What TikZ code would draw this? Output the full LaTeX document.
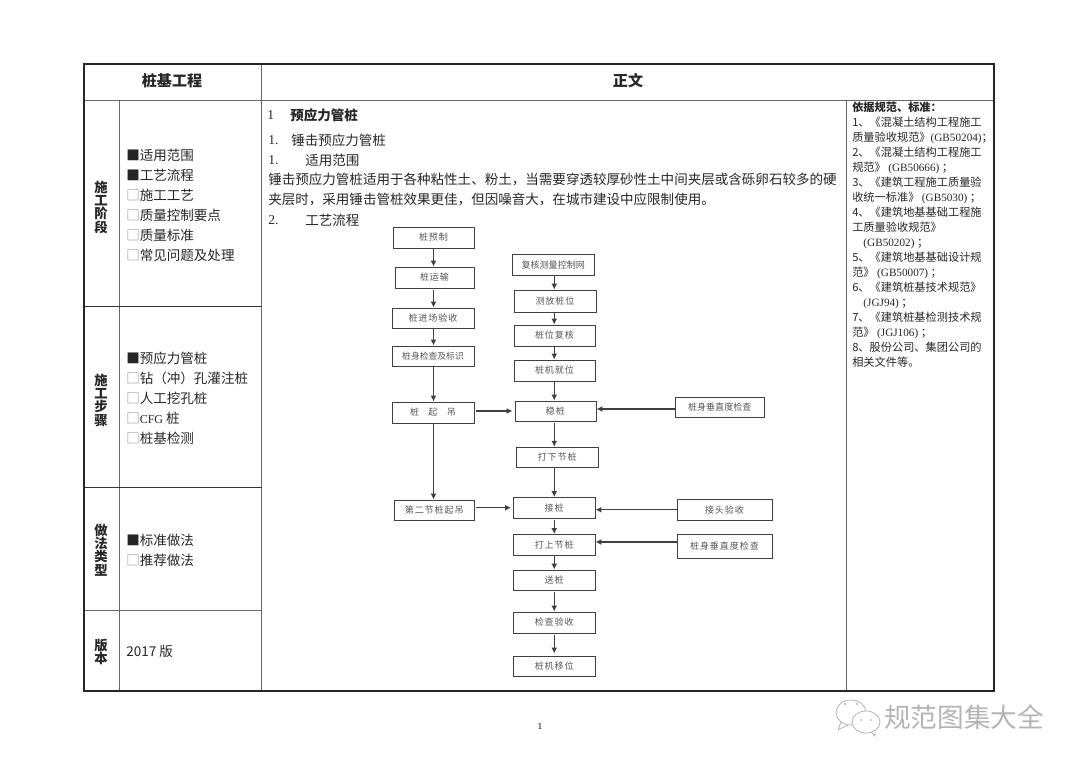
\documentclass[tikz,border=0pt]{standalone}
\usepackage{amsmath}
\usepackage{fontspec}
\usetikzlibrary{arrows.meta}
\setmainfont{Noto Sans CJK SC}
\newfontfamily\numfont{Liberation Serif}
\newfontfamily\flowfont[LetterSpace=10]{Noto Sans CJK SC}
\newfontfamily\flowtight{Noto Sans CJK SC}
\definecolor{tabline}{HTML}{666666}
\definecolor{bodytext}{HTML}{262626}
\definecolor{flowtext}{HTML}{555555}
\definecolor{offmark}{HTML}{8A8A8A}
\definecolor{markgray}{HTML}{B4B4B4}
\tikzset{
  flowbox/.style={draw=black!75,line width=0.7pt,inner sep=0pt,minimum width=60.75pt,minimum height=15.75pt,text=flowtext,font=\fontsize{6.8}{8}\flowfont},
  flowline/.style={draw=black!75,line width=0.9pt,-{Latex[length=4.5pt,width=4.5pt]}},
  gapped/.style={shorten <=1.5pt},
  gappedboth/.style={shorten <=1.5pt,shorten >=1.5pt},
  bodylabel/.style={anchor=west,inner sep=0pt,text=bodytext,font=\fontsize{10.15}{13}\selectfont},
  sidehead/.style={inner sep=0pt,align=center,text=bodytext,font=\fontsize{10}{10}\selectfont\bfseries},
  headlabel/.style={inner sep=0pt,text=bodytext,font=\fontsize{11.3}{13}\selectfont\bfseries},
}
\newcommand{\offbox}{{\color{offmark}□}}
\begin{document}
\begin{tikzpicture}[x=0.75pt,y=0.75pt,yscale=-1]
\useasboundingbox (0,0) rectangle (1080,764);

% table rules
\draw [color=tabline,line width=0.7pt] (84,100) -- (994,100) ;
\draw [color=tabline,line width=0.7pt] (119,100) -- (119,691) ;
\draw [color=tabline,line width=0.7pt] (261.5,64) -- (261.5,691) ;
\draw [color=tabline,line width=0.7pt] (846,100) -- (846,691) ;
\draw [color=black!80,line width=0.7pt] (84,306.5) -- (261.5,306.5) ;
\draw [color=black!80,line width=0.7pt] (84,487) -- (261.5,487) ;
\draw [color=tabline,line width=0.7pt] (84,610) -- (261.5,610) ;
\draw [color=black!85,line width=1.3pt] (84,64) rectangle (994,691) ;

% Header
\node [headlabel] (headleft) at (172,81) {桩基工程};
\node [headlabel] (headmain) at (628,81) {正文};

% Left column
\node [sidehead] (stage) at (101,207) {施\\工\\阶\\段};
\node [sidehead] (steps) at (101,400) {施\\工\\步\\骤};
\node [sidehead] (kinds) at (101,550) {做\\法\\类\\型};
\node [sidehead] (edition) at (101,652) {版\\本};

\node [bodylabel] (st1) at (126,155) {■适用范围};
\node [bodylabel] (st2) at (126,175) {■工艺流程};
\node [bodylabel] (st3) at (126,195) {\offbox 施工工艺};
\node [bodylabel] (st4) at (126,215) {\offbox 质量控制要点};
\node [bodylabel] (st5) at (126,235) {\offbox 质量标准};
\node [bodylabel] (st6) at (126,255) {\offbox 常见问题及处理};

\node [bodylabel] (sp1) at (126,358) {■预应力管桩};
\node [bodylabel] (sp2) at (126,378) {\offbox 钻（冲）孔灌注桩};
\node [bodylabel] (sp3) at (126,398) {\offbox 人工挖孔桩};
\node [bodylabel] (sp4) at (126,418) {\offbox {\fontsize{9}{11}\numfont CFG} 桩};
\node [bodylabel] (sp5) at (126,438) {\offbox 桩基检测};

\node [bodylabel] (kd1) at (126,540) {■标准做法};
\node [bodylabel] (kd2) at (126,560) {\offbox 推荐做法};

\node [bodylabel] (ver) at (126,651) {2017 版};

% Main text
\node [bodylabel] (secnum) at (267,115) {\numfont 1};
\node [bodylabel,font=\fontsize{10.15}{13}\selectfont\bfseries] (sectitle) at (290,115) {预应力管桩};
\node [bodylabel] (subnum) at (268,140) {\numfont 1.};
\node [bodylabel] (subtitle) at (291,140) {锤击预应力管桩};
\node [bodylabel] (numa) at (268,160) {\numfont 1.};
\node [bodylabel] (titlea) at (305,160) {适用范围};
\node [bodylabel] (para1) at (268,179) {锤击预应力管桩适用于各种粘性土、粉土，当需要穿透较厚砂性土中间夹层或含砾卵石较多的硬};
\node [bodylabel] (para2) at (268,199) {夹层时，采用锤击管桩效果更佳，但因噪音大，在城市建设中应限制使用。};
\node [bodylabel] (numb) at (268,220) {\numfont 2.};
\node [bodylabel] (titleb) at (305,220) {工艺流程};

% Right column
\node [anchor=north west,inner sep=0pt,align=left,text=bodytext,font=\fontsize{8.4}{11.22}\selectfont] (refs) at (852,102) {{\bfseries 依据规范、标准：}\\
1、《混凝土结构工程施工\\
质量验收规范》{\numfont (GB50204)}；\\
2、《混凝土结构工程施工\\
规范》 {\numfont (GB50666)} ；\\
3、《建筑工程施工质量验\\
收统一标准》 {\numfont (GB5030)} ；\\
4、《建筑地基基础工程施\\
工质量验收规范》\\
\quad{\numfont (GB50202)} ；\\
5、《建筑地基基础设计规\\
范》 {\numfont (GB50007)} ；\\
6、《建筑桩基技术规范》\\
\quad{\numfont (JGJ94)} ；\\
7、《建筑桩基检测技术规\\
范》 {\numfont (JGJ106)} ；\\
8、股份公司、集团公司的\\
相关文件等。};

% Flow boxes, left branch
\node [flowbox] (yz) at (433.5,237.5) {桩预制};
\node [flowbox,minimum width=59.25pt] (ys) at (434.5,277.5) {桩运输};
\node [flowbox,minimum width=61.5pt,minimum height=15pt] (jc) at (433,318) {桩进场验收};
\node [flowbox,minimum width=61.5pt,minimum height=15pt,font=\fontsize{6.6}{8}\flowtight] (js) at (433,356) {桩身检查及标识};
\node [flowbox,minimum width=61.5pt] (qd) at (433,412.5) {桩\hspace{7pt}起\hspace{7pt}吊};
\node [flowbox,minimum width=59.6pt,minimum height=15.4pt] (de) at (434.25,510.25) {第二节桩起吊};

% Flow boxes, main branch
\node [flowbox,minimum width=61.1pt,font=\fontsize{6.8}{8}\flowtight] (fh) at (553.25,265) {复核测量控制网};
\node [flowbox,minimum width=61.5pt,minimum height=16.5pt] (cf) at (555,301) {测放桩位};
\node [flowbox] (wf) at (554.5,335.5) {桩位复核};
\node [flowbox] (jw) at (554.5,370.5) {桩机就位};
\node [flowbox,minimum height=15pt] (wz) at (555.5,411) {稳桩};
\node [flowbox,minimum width=61.1pt,minimum height=15.4pt] (dx) at (557.25,457.5) {打下节桩};
\node [flowbox,minimum width=61.1pt,minimum height=15.4pt] (jz) at (554.25,507.75) {接桩};
\node [flowbox,minimum width=61.1pt,minimum height=15.4pt] (ds) at (554.25,544.75) {打上节桩};
\node [flowbox,minimum width=61.1pt,minimum height=15pt] (sz) at (554.25,580) {送桩};
\node [flowbox,minimum width=61.1pt] (jy) at (554.25,622.5) {检查验收};
\node [flowbox,minimum width=61.1pt,minimum height=15pt] (yw) at (554.25,666) {桩机移位};

% Flow boxes, checks
\node [flowbox,minimum width=66.4pt,minimum height=15pt,font=\fontsize{6.8}{8}\flowtight] (czone) at (719.75,407) {桩身垂直度检查};
\node [flowbox,minimum width=71.25pt,minimum height=15.4pt] (jt) at (724.5,509.75) {接头验收};
\node [flowbox,minimum width=71.25pt,minimum height=17.6pt] (cztwo) at (724.5,546.25) {桩身垂直度检查};
\coordinate (czonefoot) at (675.5,409);
\coordinate (cztwofoot) at (677,542);

% Connectors, left branch
\draw [flowline] (yz.south) -- (yz.south |- ys.north);
\draw [flowline,gapped] (yz.south |- ys.south) -- (yz.south |- jc.north);
\draw [flowline] (yz.south |- jc.south) -- (yz.south |- js.north);
\draw [flowline] (yz.south |- js.south) -- (yz.south |- qd.north);
\draw [flowline] (yz.south |- qd.south) -- (yz.south |- de.north);

% Connectors, main branch
\draw [flowline] (fh.south -| jz.north) -- (cf.north -| jz.north);
\draw [flowline] (cf.south -| jz.north) -- (wf.north -| jz.north);
\draw [flowline] (wf.south -| jz.north) -- (jw.north -| jz.north);
\draw [flowline] (jw.south -| jz.north) -- (wz.north -| jz.north);
\draw [flowline,gapped] (wz.south -| jz.north) -- (dx.north -| jz.north);
\draw [flowline] (dx.south -| jz.north) -- (jz.north);
\draw [flowline,gapped] (jz.south) -- (ds.north);
\draw [flowline] (ds.south) -- (sz.north);
\draw [flowline,gapped] (sz.south) -- (jy.north);
\draw [flowline,gappedboth] (jy.south) -- (yw.north);

% Connectors, sideways
\draw [flowline,gappedboth] (qd.east |- wz.west) -- (wz.west);
\draw [flowline,gappedboth] (de.east |- jz.west) -- (jz.west);
\draw [flowline] (czonefoot) -- (czonefoot -| wz.east);
\draw [flowline] (jt.west) -- (jt.west -| jz.east);
\draw [flowline] (cztwofoot) -- (cztwofoot -| ds.east);

% Page number
\node [inner sep=0pt,font=\fontsize{7}{8}\numfont] (pagenum) at (540,726) {1};

% Watermark
\draw [color=markgray,line width=0.6pt,fill=white] (851,712.5) ellipse [x radius=15,y radius=12.5];
\draw [color=markgray,line width=0.6pt] (841,722) -- (838,730) -- (848,725);
\draw [color=markgray,line width=0.6pt,fill=white] (866,722) ellipse [x radius=14,y radius=11];
\draw [color=markgray,line width=0.6pt] (871,732) -- (875,736) -- (875,730);
\fill [color=markgray] (845,704) circle [radius=1.2] (857,704) circle [radius=1.2] (861,720) circle [radius=1] (871,720) circle [radius=1];
\node [inner sep=0pt,text=markgray,font=\fontsize{20}{24}\selectfont] (markname) at (964,717) {规范图集大全};
\end{tikzpicture}
\end{document}
